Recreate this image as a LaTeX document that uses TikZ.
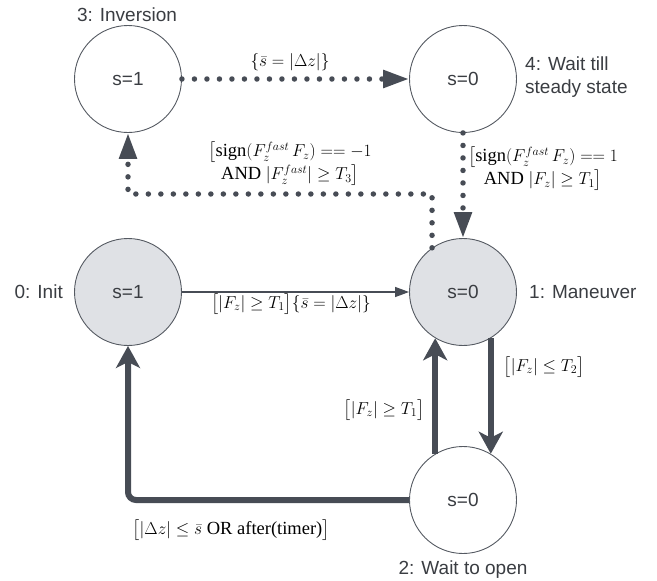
\documentclass[tikz,border=0pt]{standalone}
\usepackage{amsmath}
\usepackage{fontspec}
\setmainfont{Liberation Serif}
\newfontfamily\lsans{Liberation Sans}
\usetikzlibrary{arrows.meta,calc}
\definecolor{ln}{HTML}{474C55}
\definecolor{cf}{HTML}{DFE1E5}
\definecolor{cs}{HTML}{555A62}
\definecolor{tx}{HTML}{3A3D42}
\tikzset{
  state/.style={circle,draw=cs,line width=0.9pt,minimum size=107pt,inner sep=0pt,
    font=\lsans\fontsize{19}{23}\selectfont,text=tx},
  active/.style={state,fill=cf},
  passive/.style={state,fill=white},
  slabel/.style={font=\lsans\fontsize{19}{23}\selectfont,text=tx,inner sep=0pt},
  mlabel/.style={font=\fontsize{18.5}{23}\selectfont,text=black,inner sep=0pt},
  dotarrow/.style={draw=ln,line width=5.5pt,line cap=round,dash pattern=on 0pt off 12.5pt,
    -{Triangle[length=26pt,width=17pt]}},
  thickarrow/.style={draw=ln,line width=6pt,-{Stealth[length=22pt,width=24pt,inset=6pt]}},
  thinarrow/.style={draw=ln,line width=1.3pt,-{Triangle[length=14pt,width=10pt]}},
}
\begin{document}
\begin{tikzpicture}[x=1pt,y=-1pt]
\useasboundingbox (0,0) rectangle (657,581);
\node[passive] (inv) at (128,79) {s=1};
\node[passive] (wss) at (463,79) {s=0};
\node[active] (init) at (128,292) {s=1};
\node[active] (man) at (463,292) {s=0};
\node[passive] (wto) at (463,500) {s=0};
\coordinate (dj) at (300,194);

\node[slabel] (l3) at (127,15) {3: Inversion};
\node[slabel,anchor=west,align=left] (l4) at (525,77) {4: Wait till\\steady state};
\node[slabel,anchor=east] (l0) at (63,292) {0: Init};
\node[slabel,anchor=west] (l1) at (529,292) {1: Maneuver};
\node[slabel] (l2) at (463,570) {2: Wait to open};

\draw[dotarrow] (inv.east) -- (wss.west);
\draw[dotarrow] (wss.south) -- (man.north);
\draw[dotarrow] (man.125.4) |- (dj) -| (inv.south);
\draw[thinarrow] (init.east) -- (man.west);
\draw[thickarrow] (wto.121.5) -- (man.-121.5);
\draw[thickarrow] (man.-59.7) -- (wto.59.7);
\draw[thickarrow,rounded corners=8pt] (wto.west) -| (init.south);

\node[mlabel] (t1) at (290,62) {$\{\bar{s} = \lvert\Delta z\rvert\}$};
\node[mlabel,align=center] (t2) at (290,164) {$\big[\mathrm{sign}(F_z^{fast}\,F_z) == -1$\\AND $\lvert F_z^{fast}\rvert \geq T_3\big]$};
\node[mlabel,align=center] (t3) at (543,169) {$\big[\mathrm{sign}(F_z^{fast}\,F_z) == 1$\\AND $\lvert F_z\rvert \geq T_1\big]$};
\node[mlabel] (t4) at (291,304) {$\big[\lvert F_z\rvert \geq T_1\big]\{\bar{s} = \lvert\Delta z\rvert\}$};
\node[mlabel] (t5) at (384,410) {$\big[\lvert F_z\rvert \geq T_1\big]$};
\node[mlabel] (t6) at (544,367) {$\big[\lvert F_z\rvert \leq T_2\big]$};
\node[mlabel] (t7) at (231,530) {$\big[\lvert\Delta z\rvert \leq \bar{s}$ OR after(timer)$\big]$};
\end{tikzpicture}
\end{document}
